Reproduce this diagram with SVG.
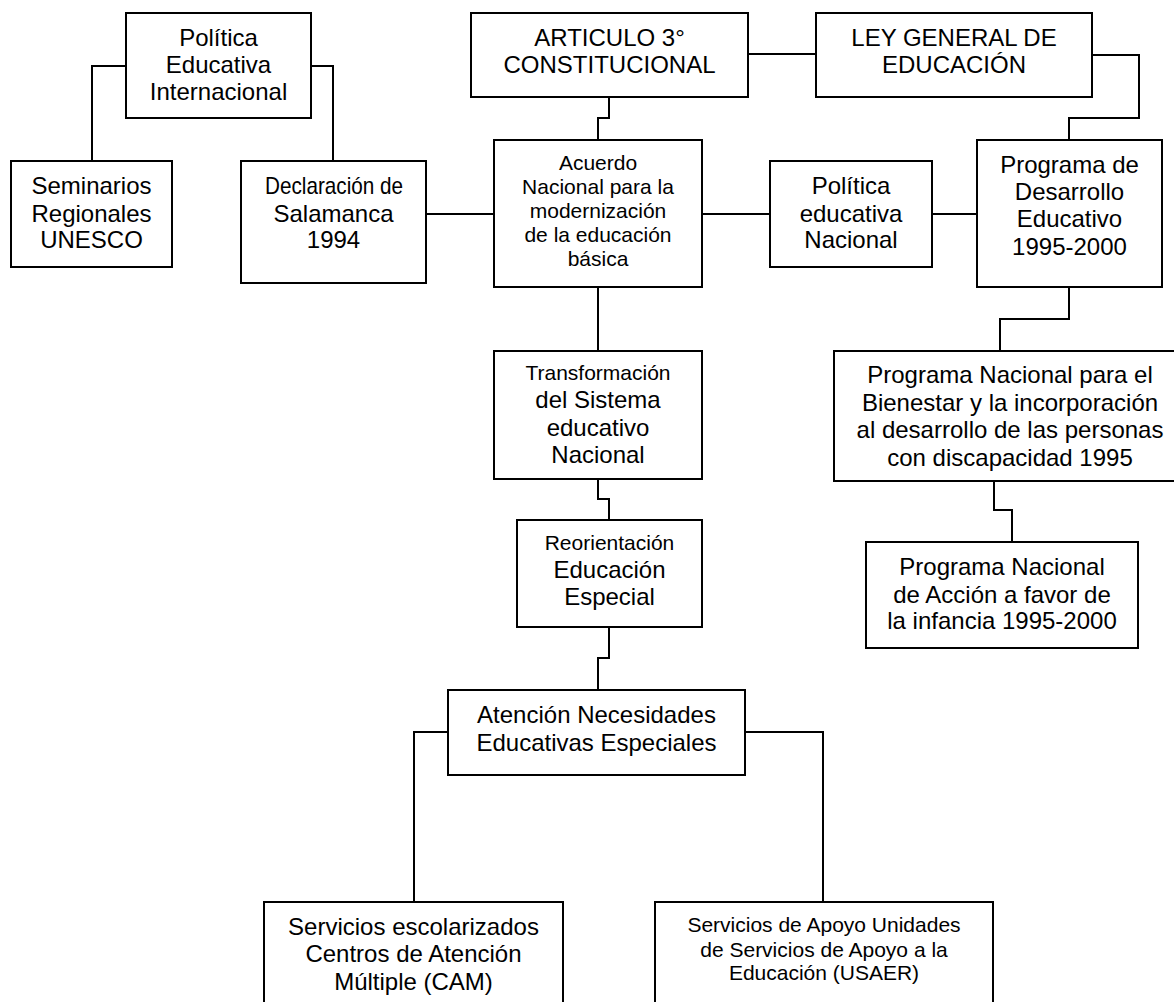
<svg xmlns="http://www.w3.org/2000/svg" width="1174" height="1002" viewBox="0 0 1174 1002">
  <style>
    .box { fill: #ffffff; stroke: #000000; stroke-width: 2; }
    .wire { fill: none; stroke: #000000; stroke-width: 2; }
    text { font-family: "Liberation Sans", Arial, sans-serif; fill: #000000; text-anchor: middle; }
    .lg { font-size: 24px; }
    .sm { font-size: 21px; }
  </style>
  <rect x="0" y="0" width="1174" height="1002" fill="#ffffff"/>

  <!-- connectors -->
  <g id="connectors">
    <path class="wire" d="M126,66 H92 V161"/>
    <path class="wire" d="M311,66 H333 V161"/>
    <path class="wire" d="M426,214 H494"/>
    <path class="wire" d="M609,97 V118 H598 V140"/>
    <path class="wire" d="M748,54 H816"/>
    <path class="wire" d="M702,214 H770"/>
    <path class="wire" d="M932,214 H977"/>
    <path class="wire" d="M1092,55 H1139 V118 H1069 V140"/>
    <path class="wire" d="M1069,287 V319 H1000 V351"/>
    <path class="wire" d="M994,481 V510 H1012 V542"/>
    <path class="wire" d="M598,287 V351"/>
    <path class="wire" d="M598,479 V499 H609 V520"/>
    <path class="wire" d="M609,627 V658 H598 V690"/>
    <path class="wire" d="M448,732 H414 V902"/>
    <path class="wire" d="M745,732 H823 V902"/>
  </g>

  <g id="politica-internacional">
    <rect class="box" x="126" y="13" width="185" height="105"/>
    <text class="lg" x="218.5" y="46">Política</text>
    <text class="lg" x="218.5" y="73">Educativa</text>
    <text class="lg" x="218.5" y="100">Internacional</text>
  </g>

  <g id="seminarios">
    <rect class="box" x="11" y="161" width="161" height="106"/>
    <text class="lg" x="91.5" y="194">Seminarios</text>
    <text class="lg" x="91.5" y="222">Regionales</text>
    <text class="lg" x="91.5" y="248">UNESCO</text>
  </g>

  <g id="salamanca">
    <rect class="box" x="241" y="161" width="185" height="122"/>
    <text class="lg" x="334" y="194" textLength="138" lengthAdjust="spacingAndGlyphs">Declaración de</text>
    <text class="lg" x="333.5" y="222">Salamanca</text>
    <text class="lg" x="333.5" y="248">1994</text>
  </g>

  <g id="articulo">
    <rect class="box" x="471" y="13" width="277" height="84"/>
    <text class="lg" x="609.5" y="46">ARTICULO 3°</text>
    <text class="lg" x="609.5" y="73">CONSTITUCIONAL</text>
  </g>

  <g id="ley-general">
    <rect class="box" x="816" y="13" width="276" height="84"/>
    <text class="lg" x="954" y="46">LEY GENERAL DE</text>
    <text class="lg" x="954" y="73">EDUCACIÓN</text>
  </g>

  <g id="acuerdo">
    <rect class="box" x="494" y="140" width="208" height="147"/>
    <text class="sm" x="598" y="170">Acuerdo</text>
    <text class="sm" x="598" y="194">Nacional para la</text>
    <text class="sm" x="598" y="218">modernización</text>
    <text class="sm" x="598" y="242">de la educación</text>
    <text class="sm" x="598" y="266">básica</text>
  </g>

  <g id="politica-nacional">
    <rect class="box" x="770" y="161" width="162" height="106"/>
    <text class="lg" x="851" y="194">Política</text>
    <text class="lg" x="851" y="222">educativa</text>
    <text class="lg" x="851" y="248">Nacional</text>
  </g>

  <g id="programa-desarrollo">
    <rect class="box" x="977" y="140" width="185" height="147"/>
    <text class="lg" x="1069.5" y="173">Programa de</text>
    <text class="lg" x="1069.5" y="200">Desarrollo</text>
    <text class="lg" x="1069.5" y="227">Educativo</text>
    <text class="lg" x="1069.5" y="255">1995-2000</text>
  </g>

  <g id="transformacion">
    <rect class="box" x="494" y="351" width="208" height="128"/>
    <text class="sm" x="598" y="380">Transformación</text>
    <text class="lg" x="598" y="408">del Sistema</text>
    <text class="lg" x="598" y="436">educativo</text>
    <text class="lg" x="598" y="463">Nacional</text>
  </g>

  <g id="reorientacion">
    <rect class="box" x="517" y="520" width="185" height="107"/>
    <text class="sm" x="609.5" y="550">Reorientación</text>
    <text class="lg" x="609.5" y="578">Educación</text>
    <text class="lg" x="609.5" y="605">Especial</text>
  </g>

  <g id="programa-bienestar">
    <rect class="box" x="834" y="351" width="344" height="130"/>
    <text class="lg" x="1010" y="383">Programa Nacional para el</text>
    <text class="lg" x="1010" y="411">Bienestar y la incorporación</text>
    <text class="lg" x="1010" y="438">al desarrollo de las personas</text>
    <text class="lg" x="1010" y="466">con discapacidad 1995</text>
  </g>

  <g id="programa-infancia">
    <rect class="box" x="866" y="542" width="272" height="106"/>
    <text class="lg" x="1002" y="575">Programa Nacional</text>
    <text class="lg" x="1002" y="603">de Acción a favor de</text>
    <text class="lg" x="1002" y="629">la infancia 1995-2000</text>
  </g>

  <g id="necesidades-especiales">
    <rect class="box" x="448" y="690" width="297" height="85"/>
    <text class="lg" x="596.5" y="723">Atención Necesidades</text>
    <text class="lg" x="596.5" y="751">Educativas Especiales</text>
  </g>

  <g id="servicios-cam">
    <rect class="box" x="264" y="902" width="299" height="110"/>
    <text class="lg" x="413.5" y="935">Servicios escolarizados</text>
    <text class="lg" x="413.5" y="962">Centros de Atención</text>
    <text class="lg" x="413.5" y="990">Múltiple (CAM)</text>
  </g>

  <g id="servicios-usaer">
    <rect class="box" x="655" y="902" width="338" height="110"/>
    <text class="sm" x="824" y="932">Servicios de Apoyo Unidades</text>
    <text class="sm" x="824" y="957">de Servicios de Apoyo a la</text>
    <text class="sm" x="824" y="980">Educación (USAER)</text>
  </g>
</svg>
